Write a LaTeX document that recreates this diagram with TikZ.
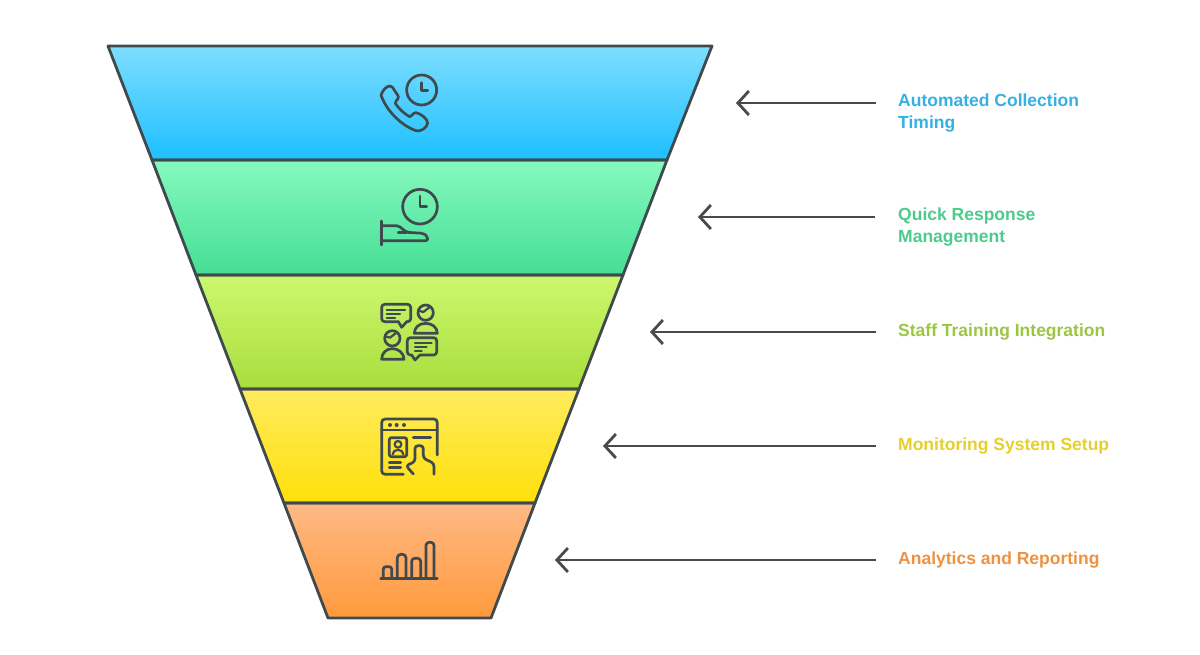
\documentclass[tikz,border=0pt]{standalone}
\usepackage{fontspec}
\setmainfont{Liberation Sans}
\usetikzlibrary{arrows.meta}
\definecolor{ink}{HTML}{3F4A4E}
\definecolor{arrowink}{HTML}{4A4A4A}
\definecolor{lblue}{HTML}{35B0E3}
\definecolor{lgreen}{HTML}{4CCB8B}
\definecolor{llime}{HTML}{9CC543}
\definecolor{lyellow}{HTML}{E6CF2A}
\definecolor{lorange}{HTML}{EE9140}
\tikzset{
  bandline/.style={draw=ink,line width=2.8pt,line join=round},
  icon/.style={draw=ink,line width=2.7pt,line cap=round,line join=round},
  thinicon/.style={draw=ink,line width=2.2pt,line cap=round,line join=round},
  pointer/.style={draw=arrowink,line width=2.8pt,-{Straight Barb[length=11pt,width=24pt,line width=2.8pt]}},
  lbl/.style={anchor=west,inner sep=0pt,align=left,font=\fontsize{17.5}{22}\selectfont\bfseries},
}
\begin{document}
\begin{tikzpicture}[x=1pt,y=-1pt]
\useasboundingbox (0,0) rectangle (1200,655);
% funnel bands
\shade[top color={rgb,255:red,126;green,222;blue,255},bottom color={rgb,255:red,30;green,191;blue,255}] (108,46)--(712,46)--(667,160)--(152,160)--cycle;
\shade[top color={rgb,255:red,134;green,249;blue,191},bottom color={rgb,255:red,69;green,222;blue,149}] (152,160)--(667,160)--(623,275)--(196,275)--cycle;
\shade[top color={rgb,255:red,205;green,247;blue,111},bottom color={rgb,255:red,168;green,222;blue,60}] (196,275)--(623,275)--(579,389)--(240,389)--cycle;
\shade[top color={rgb,255:red,255;green,235;blue,94},bottom color={rgb,255:red,255;green,224;blue,10}] (240,389)--(579,389)--(535,503)--(284,503)--cycle;
\shade[top color={rgb,255:red,255;green,185;blue,134},bottom color={rgb,255:red,255;green,154;blue,60}] (284,503)--(535,503)--(491,618)--(328,618)--cycle;
\path[bandline] (108,46)--(712,46)--(667,160)--(152,160)--cycle;
\path[bandline] (152,160)--(667,160)--(623,275)--(196,275)--cycle;
\path[bandline] (196,275)--(623,275)--(579,389)--(240,389)--cycle;
\path[bandline] (240,389)--(579,389)--(535,503)--(284,503)--cycle;
\path[bandline] (284,503)--(535,503)--(491,618)--(328,618)--cycle;
% icon 1: phone and clock
\begin{scope}[shift={(360,60)},scale=1/3]
\path[icon] (185,90) circle (45);
\path[icon] (185,68)--(185,92)--(203,92);
\path[icon] (63,105) .. controls (68,90) and (80,78) .. (90,78)
  .. controls (96,78) and (100,84) .. (104,92)
  .. controls (110,102) and (118,108) .. (114,116)
  .. controls (112,122) and (104,124) .. (106,130)
  .. controls (116,146) and (132,160) .. (148,170)
  .. controls (156,170) and (158,158) .. (168,158)
  .. controls (180,160) and (204,176) .. (203,190)
  .. controls (200,204) and (182,216) .. (168,212)
  .. controls (122,196) and (78,150) .. (63,105) -- cycle;
\end{scope}
% icon 2: hand and clock
\begin{scope}[shift={(360,160)},scale=1/3]
\path[icon] (180,140) circle (52);
\path[icon] (180,108)--(180,140)--(200,140);
\path[icon] (65,183)--(65,255);
\path[icon,rounded corners=2pt] (65,197)--(115,197)--(140,217)--(190,220)--(203,230)--(203,242)--(65,242);
\path[icon] (115,217)--(140,217);
\end{scope}
% icon 3: people and chat bubbles
\begin{scope}[shift={(360,290)},scale=1/3]
\path[icon,rounded corners=3pt] (115,95)--(65,95)--(65,43)--(152,43)--(152,95)--(140,95);
\path[icon] (115,95)--(125,112)--(140,95);
\path[thinicon] (80,60)--(135,60) (80,72)--(120,72) (80,84)--(105,84);
\path[icon] (197,68) circle (23);
\path[thinicon] (176,62)--(190,66)--(208,52);
\path[icon] (163,130) .. controls (163,112) and (178,100) .. (197,100) .. controls (216,100) and (232,112) .. (232,130) -- cycle;
\path[icon] (97,145) circle (23);
\path[thinicon] (76,139)--(90,143)--(108,129);
\path[icon] (65,208) .. controls (65,190) and (78,176) .. (97,176) .. controls (116,176) and (132,190) .. (132,208) -- cycle;
\path[icon,rounded corners=3pt] (155,195)--(142,195)--(142,143)--(230,143)--(230,195)--(180,195);
\path[icon] (155,195)--(165,210)--(180,195);
\path[thinicon] (165,158)--(215,158) (165,170)--(200,170) (165,182)--(185,182);
\end{scope}
% icon 4: browser window with pointer
\begin{scope}[shift={(360,405)},scale=1/3]
\path[icon,rounded corners=3.5pt] (130,208)--(65,208)--(65,42)--(232,42)--(232,150);
\path[icon] (65,75)--(232,75);
\fill[ink] (90,60) circle (6) (110,60) circle (6) (132,60) circle (6);
\path[icon,rounded corners=2pt] (88,98) rectangle (140,155);
\path[thinicon] (114,118) circle (10);
\path[thinicon] (98,148) .. controls (98,130) and (130,130) .. (130,148);
\path[icon] (160,98)--(212,98);
\path[icon] (88,172)--(122,172) (88,187)--(122,187);
\path[icon,rounded corners=3pt] (160,207)--(138,182)--(165,170)--(165,122)--(190,122)--(190,160)--(222,175)--(222,208);
\end{scope}
% icon 5: bar chart
\begin{scope}[shift={(360,405)},scale=1/3]
\path[icon] (62,520)--(232,520);
\path[icon,rounded corners=2.5pt] (70,520)--(70,485)--(95,485)--(95,520);
\path[icon,rounded corners=3.5pt] (112,520)--(112,448)--(138,448)--(138,520);
\path[icon,rounded corners=3pt] (155,520)--(155,460)--(182,460)--(182,520);
\path[icon,rounded corners=3pt] (198,520)--(198,412)--(222,412)--(222,520);
\end{scope}
% labels
\node[lbl,text=lblue] (l1) at (898,113) {Automated Collection\\Timing};
\node[lbl,text=lgreen] (l2) at (898,227) {Quick Response\\Management};
\node[lbl,text=llime] (l3) at (898,332) {Staff Training Integration};
\node[lbl,text=lyellow] (l4) at (898,446) {Monitoring System Setup};
\node[lbl,text=lorange] (l5) at (898,560) {Analytics and Reporting};
% arrows
\coordinate (s1) at (876,103); \coordinate (t1) at (736,103);
\coordinate (s2) at (875,217); \coordinate (t2) at (698,217);
\coordinate (s3) at (876,332); \coordinate (t3) at (650,332);
\coordinate (s4) at (876,446); \coordinate (t4) at (603,446);
\coordinate (s5) at (876,560); \coordinate (t5) at (555,560);
\path[pointer] (s1)--(t1);
\path[pointer] (s2)--(t2);
\path[pointer] (s3)--(t3);
\path[pointer] (s4)--(t4);
\path[pointer] (s5)--(t5);
\end{tikzpicture}
\end{document}
